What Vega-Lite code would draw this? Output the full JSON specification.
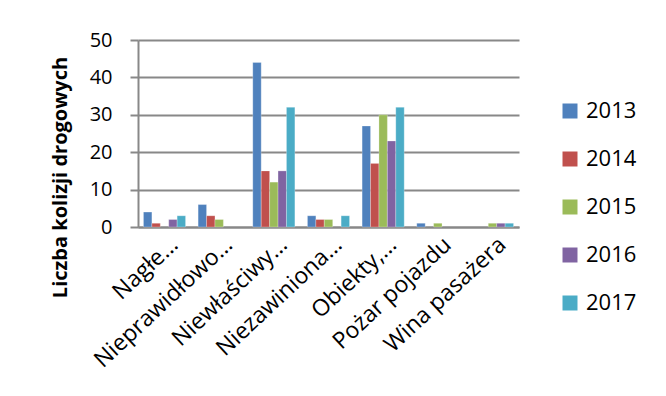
{
  "$schema": "https://vega.github.io/schema/vega-lite/v6.json",
  "width": 381,
  "height": 187,
  "autosize": "none",
  "padding": {"left": 138, "top": 40, "right": 147, "bottom": 169},
  "background": "white",
  "config": {
    "font": "Open Sans",
    "view": {"stroke": null}
  },
  "data": {
    "values": [
      {"kategoria": "Nagłe…", "rok": "2013", "liczba": 4},
      {"kategoria": "Nagłe…", "rok": "2014", "liczba": 1},
      {"kategoria": "Nagłe…", "rok": "2016", "liczba": 2},
      {"kategoria": "Nagłe…", "rok": "2017", "liczba": 3},
      {"kategoria": "Nieprawidłowo…", "rok": "2013", "liczba": 6},
      {"kategoria": "Nieprawidłowo…", "rok": "2014", "liczba": 3},
      {"kategoria": "Nieprawidłowo…", "rok": "2015", "liczba": 2},
      {"kategoria": "Niewłaściwy…", "rok": "2013", "liczba": 44},
      {"kategoria": "Niewłaściwy…", "rok": "2014", "liczba": 15},
      {"kategoria": "Niewłaściwy…", "rok": "2015", "liczba": 12},
      {"kategoria": "Niewłaściwy…", "rok": "2016", "liczba": 15},
      {"kategoria": "Niewłaściwy…", "rok": "2017", "liczba": 32},
      {"kategoria": "Niezawiniona…", "rok": "2013", "liczba": 3},
      {"kategoria": "Niezawiniona…", "rok": "2014", "liczba": 2},
      {"kategoria": "Niezawiniona…", "rok": "2015", "liczba": 2},
      {"kategoria": "Niezawiniona…", "rok": "2017", "liczba": 3},
      {"kategoria": "Obiekty,…", "rok": "2013", "liczba": 27},
      {"kategoria": "Obiekty,…", "rok": "2014", "liczba": 17},
      {"kategoria": "Obiekty,…", "rok": "2015", "liczba": 30},
      {"kategoria": "Obiekty,…", "rok": "2016", "liczba": 23},
      {"kategoria": "Obiekty,…", "rok": "2017", "liczba": 32},
      {"kategoria": "Pożar pojazdu", "rok": "2013", "liczba": 1},
      {"kategoria": "Pożar pojazdu", "rok": "2015", "liczba": 1},
      {"kategoria": "Wina pasażera", "rok": "2015", "liczba": 1},
      {"kategoria": "Wina pasażera", "rok": "2016", "liczba": 1},
      {"kategoria": "Wina pasażera", "rok": "2017", "liczba": 1}
    ]
  },
  "mark": {"type": "bar", "stroke": "#ffffff", "strokeOpacity": 0.5, "strokeWidth": 0.5},
  "encoding": {
    "x": {
      "field": "kategoria",
      "type": "nominal",
      "sort": ["Nagłe…", "Nieprawidłowo…", "Niewłaściwy…", "Niezawiniona…", "Obiekty,…", "Pożar pojazdu", "Wina pasażera"],
      "scale": {"paddingInner": 0.23, "paddingOuter": 0.1},
      "axis": {
        "title": null,
        "labelAngle": -43,
        "labelAlign": "right",
        "labelBaseline": "middle",
        "labelFontSize": 23,
        "labelColor": "#000000",
        "labelPadding": 14,
        "labelOffset": 10,
        "labelLimit": 0,
        "ticks": false,
        "domainColor": "#888888",
        "domainWidth": 2,
        "labelOverlap": false
      }
    },
    "xOffset": {"field": "rok", "type": "nominal"},
    "y": {
      "field": "liczba",
      "type": "quantitative",
      "scale": {"domain": [0, 50]},
      "axis": {
        "title": "Liczba kolizji drogowych",
        "titleFontSize": 20,
        "titleFontWeight": "bold",
        "titleColor": "#000000",
        "titleAngle": -90,
        "titleX": -78,
        "titleY": 137,
        "titleAlign": "center",
        "titleBaseline": "middle",
        "values": [0, 10, 20, 30, 40, 50],
        "labelFontSize": 20,
        "labelColor": "#000000",
        "labelPadding": 18,
        "tickSize": 8,
        "tickColor": "#888888",
        "tickWidth": 2,
        "domainColor": "#888888",
        "domainWidth": 2,
        "gridColor": "#888888",
        "gridWidth": 2
      }
    },
    "color": {
      "field": "rok",
      "type": "nominal",
      "scale": {
        "domain": ["2013", "2014", "2015", "2016", "2017"],
        "range": ["#4F81BD", "#C0504D", "#9BBB59", "#8064A2", "#4BACC6"]
      },
      "legend": {
        "title": null,
        "orient": "none",
        "legendX": 421,
        "legendY": 60,
        "symbolType": "square",
        "symbolSize": 225,
        "symbolStrokeWidth": 0,
        "labelFontSize": 22,
        "labelColor": "#000000",
        "labelOffset": 5,
        "rowPadding": 26,
        "padding": 0
      }
    }
  }
}
